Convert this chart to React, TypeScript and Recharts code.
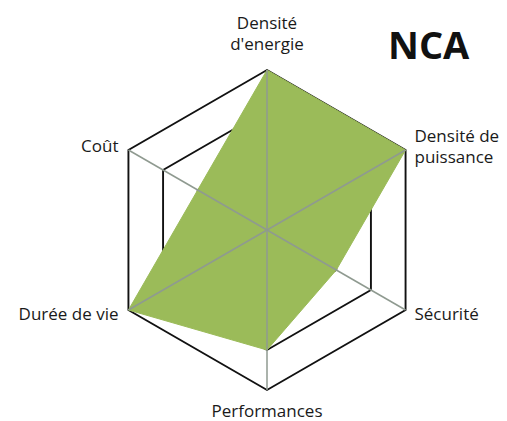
import { PolarAngleAxis, PolarGrid, PolarRadiusAxis, Radar, RadarChart } from "recharts";

const CRITERIA = [
  "Densité\nd'energie",
  "Densité de\npuissance",
  "Sécurité",
  "Performances",
  "Durée de vie",
  "Coût"
];
const NCA_SCORES = [4, 4, 2, 3, 4, 2];
const SCALE_MAX = 4;

const data = CRITERIA.map((name, i) => ({ name, nca: NCA_SCORES[i] }));

const CX = 267;
const CY = 230;
const FONT = "'Open Sans', 'DejaVu Sans', sans-serif";

function CriterionTick(props: any) {
  const { x, y, textAnchor, payload } = props;
  const lines = String(payload.value).split("\n");
  const lineH = 21;
  let firstBaseline: number;
  if (textAnchor === "middle" && y < CY) {
    firstBaseline = y - 12 - (lines.length - 1) * lineH;
  } else if (textAnchor === "middle") {
    firstBaseline = y + 19;
  } else {
    firstBaseline = y + 6 - ((lines.length - 1) * lineH) / 2;
  }
  const dx = textAnchor === "start" ? 2 : textAnchor === "end" ? -3 : 0;
  return (
    <g>
      {lines.map((line, i) => (
        <text
          key={i}
          x={x + dx}
          y={firstBaseline + i * lineH}
          textAnchor={textAnchor}
          fontFamily={FONT}
          fontSize={17}
          fill="#1a1a1a"
        >
          {line}
        </text>
      ))}
    </g>
  );
}

export default function App() {
  return (
    <div style={{ position: "absolute", left: 0, top: 0, width: 507, height: 421, background: "#fff" }}>
      <RadarChart width={507} height={421} data={data} cx={CX} cy={CY} outerRadius={160} margin={{ top: 0, right: 0, bottom: 0, left: 0 }}>
        <PolarGrid gridType="polygon" radialLines={false} stroke="#111" strokeWidth={1.9} />
        <PolarRadiusAxis domain={[0, SCALE_MAX]} tickCount={5} axisLine={false} tick={false} />
        <PolarAngleAxis dataKey="name" tick={<CriterionTick />} tickLine={false} axisLine={false} />
        <Radar dataKey="nca" fill="#9BBB59" fillOpacity={1} stroke="#9BBB59" strokeWidth={1} isAnimationActive={false} dot={false} />
        <PolarGrid gridType="polygon" polarRadius={[0]} radialLines stroke="#8f9a90" strokeWidth={1.5} zIndex={1000} />
      </RadarChart>
      <div
        style={{
          position: "absolute",
          left: 388,
          top: 20,
          fontFamily: FONT,
          fontWeight: 700,
          fontSize: 38,
          lineHeight: "48px",
          color: "#111"
        }}
      >
        NCA
      </div>
    </div>
  );
}
